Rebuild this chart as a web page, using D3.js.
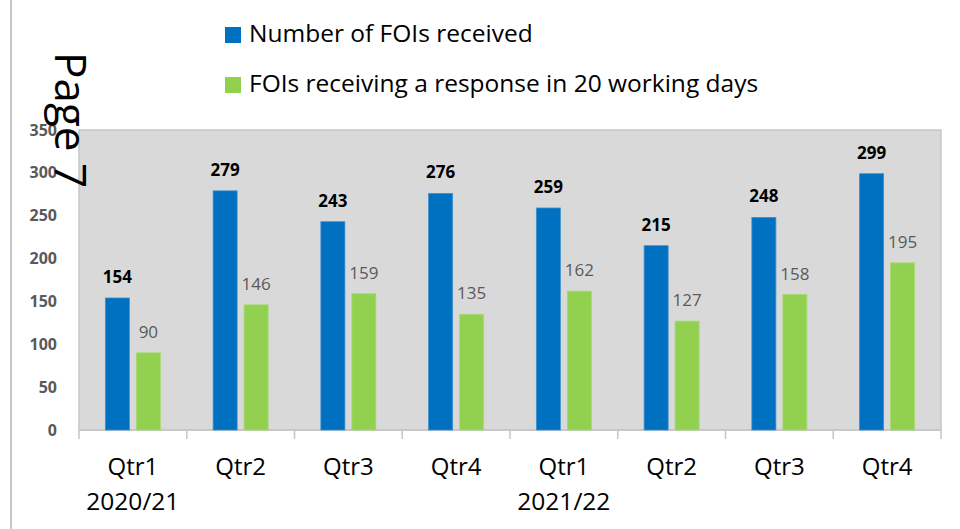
<!DOCTYPE html>
<html>
<head>
<meta charset="utf-8">
<script src="https://cdn.jsdelivr.net/npm/d3@7"></script>
<style>
  body { margin: 0; background: #fff; }
  svg { display: block; font-family: "Open Sans", sans-serif; }
</style>
</head>
<body>
<div id="chart"></div>
<script>
// datos
const quarters = ["Qtr1", "Qtr2", "Qtr3", "Qtr4", "Qtr1", "Qtr2", "Qtr3", "Qtr4"];
const years = ["2020/21", "", "", "", "2021/22", "", "", ""];
const received = [154, 279, 243, 276, 259, 215, 248, 299];
const answered = [90, 146, 159, 135, 162, 127, 158, 195];
const yTicks = [0, 50, 100, 150, 200, 250, 300, 350];
const seriesNames = ["Number of FOIs received", "FOIs receiving a response in 20 working days"];
const colores = ["#0070C0", "#92D050"];

const W = 960, H = 529;
const plot = { left: 79, right: 941, top: 130, bottom: 430 };

const svg = d3.select("#chart").append("svg")
  .attr("width", W).attr("height", H);

// línea gris a la izquierda
svg.append("line")
  .attr("x1", 11).attr("x2", 11).attr("y1", 0).attr("y2", H)
  .attr("stroke", "#c8c8c8").attr("stroke-width", 2);

// Escalas
const idx = d3.range(quarters.length);
const x = d3.scaleBand().domain(idx).range([plot.left, plot.right]);
const y = d3.scaleLinear().domain([0, 350]).range([plot.bottom, plot.top]);

// fondo del área de trazado
svg.append("rect")
  .attr("x", plot.left).attr("y", plot.top)
  .attr("width", plot.right - plot.left).attr("height", plot.bottom - plot.top)
  .attr("fill", "#d9d9d9").attr("stroke", "#c6c6c6").attr("stroke-width", 1.5);

// Eje Y
const yAxis = svg.append("g")
  .attr("transform", `translate(${plot.left - 22},0)`)
  .call(d3.axisLeft(y).tickValues(yTicks).tickSize(0).tickPadding(0));
yAxis.select(".domain").remove();
yAxis.selectAll("text")
  .attr("font-family", "Open Sans, sans-serif")
  .attr("font-size", 16).attr("font-weight", "bold").attr("fill", "#595959");

// Eje X: línea base y marcas entre categorías
svg.append("line")
  .attr("x1", plot.left).attr("x2", plot.right)
  .attr("y1", plot.bottom).attr("y2", plot.bottom)
  .attr("stroke", "#c6c6c6").attr("stroke-width", 1.5);
const bounds = idx.map(i => x(i)).concat([plot.right]);
svg.selectAll(".tick-x").data(bounds).enter().append("line")
  .attr("x1", d => d).attr("x2", d => d)
  .attr("y1", plot.bottom).attr("y2", plot.bottom + 9)
  .attr("stroke", "#c6c6c6").attr("stroke-width", 1.5);

// Etiquetas de categoría
svg.selectAll(".qlabel").data(idx).enter().append("text")
  .attr("x", i => x(i) + x.bandwidth() / 2)
  .attr("y", 475)
  .attr("text-anchor", "middle")
  .attr("font-size", 24).attr("fill", "#000")
  .text(i => quarters[i]);
svg.selectAll(".ylabel").data(idx.filter(i => years[i])).enter().append("text")
  .attr("x", i => x(i) + x.bandwidth() / 2)
  .attr("y", 510)
  .attr("text-anchor", "middle")
  .attr("font-size", 24.5).attr("fill", "#000")
  .text(i => years[i]);

// Barras
const barW = 24, gap = 7;
const offset = (x.bandwidth() - (barW * 2 + gap)) / 2;
const series = [received, answered];

series.forEach((vals, s) => {
  const bx = i => x(i) + offset + s * (barW + gap);
  svg.selectAll(".bar" + s).data(idx).enter().append("rect")
    .attr("x", bx)
    .attr("y", i => y(vals[i]))
    .attr("width", barW)
    .attr("height", i => y(0) - y(vals[i]))
    .attr("fill", colores[s])
    .attr("stroke", s === 0 ? "#3b8fd0" : "#a6da70")
    .attr("stroke-width", 0.8);

  svg.selectAll(".lab" + s).data(idx).enter().append("text")
    .attr("x", i => bx(i) + barW / 2)
    .attr("y", i => y(vals[i]) - 15)
    .attr("text-anchor", "middle")
    .attr("font-size", 17)
    .attr("font-weight", s === 0 ? "bold" : "normal")
    .attr("fill", s === 0 ? "#000" : "#595959")
    .text(i => vals[i]);
});

// Leyenda
const legY = [27, 77];
seriesNames.forEach((name, s) => {
  svg.append("rect")
    .attr("x", 225).attr("y", legY[s])
    .attr("width", 16).attr("height", 16)
    .attr("fill", colores[s]);
  svg.append("text")
    .attr("x", 249).attr("y", legY[s] + 15)
    .attr("font-size", 24.5).attr("fill", "#000")
    .text(name);
});

// texto girado "Page 7"
svg.append("text")
  .attr("transform", "translate(55,52) rotate(90)")
  .attr("font-size", 44).attr("fill", "#000")
  .text("Page 7");
</script>
</body>
</html>
